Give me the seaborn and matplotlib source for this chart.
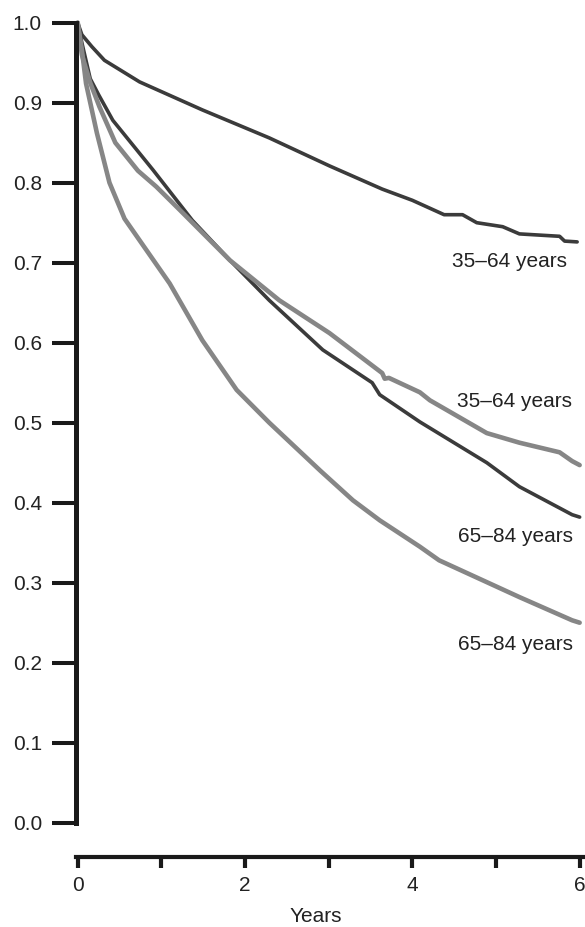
import numpy as np
import pandas as pd
import matplotlib
matplotlib.use("Agg")
import matplotlib.pyplot as plt
import seaborn as sns
from matplotlib.ticker import FixedLocator

# ---- data ----
x_a = [0.0, 0.05, 0.17, 0.32, 0.74, 1.49, 2.29, 3.01, 3.64, 4.0, 4.38, 4.60, 4.77, 5.08, 5.28, 5.76, 5.82, 5.97]
y_a = [1.0, 0.985, 0.970, 0.953, 0.926, 0.891, 0.856, 0.821, 0.792, 0.778, 0.760, 0.760, 0.750, 0.745, 0.736, 0.733, 0.727, 0.726]

x_b = [0.0, 0.05, 0.15, 0.25, 0.42, 0.90, 1.37, 1.82, 2.29, 2.93, 3.52, 3.61, 4.09, 4.89, 5.28, 5.91, 6.0]
y_b = [1.0, 0.975, 0.93, 0.91, 0.878, 0.816, 0.753, 0.703, 0.653, 0.591, 0.550, 0.535, 0.501, 0.450, 0.420, 0.385, 0.382]

x_c = [0.0, 0.05, 0.15, 0.26, 0.45, 0.72, 0.94, 1.22, 1.82, 2.41, 3.01, 3.64, 3.67, 3.72, 4.09, 4.21, 4.89, 5.28, 5.76, 5.91, 6.0]
y_c = [1.0, 0.96, 0.925, 0.895, 0.85, 0.815, 0.795, 0.766, 0.703, 0.653, 0.612, 0.562, 0.555, 0.556, 0.538, 0.528, 0.487, 0.475, 0.463, 0.452, 0.447]

x_d = [0.0, 0.05, 0.10, 0.23, 0.38, 0.56, 1.10, 1.49, 1.90, 2.29, 2.90, 3.29, 3.61, 4.09, 4.32, 5.28, 5.91, 6.0]
y_d = [1.0, 0.966, 0.924, 0.862, 0.80, 0.755, 0.674, 0.603, 0.541, 0.500, 0.44, 0.403, 0.378, 0.345, 0.328, 0.282, 0.253, 0.250]

series_names = ["35–64 dark", "65–84 dark", "35–64 light", "65–84 light"]
curve_labels = ["35–64 years", "35–64 years", "65–84 years", "65–84 years"]
y_ticks = [0.0, 0.1, 0.2, 0.3, 0.4, 0.5, 0.6, 0.7, 0.8, 0.9, 1.0]
x_major = [0, 2, 4, 6]
x_minor = [1, 3, 5]
x_label = "Years"

# ---- build long-form table ----
frames = []
for name, xs, ys in zip(series_names, [x_a, x_b, x_c, x_d], [y_a, y_b, y_c, y_d]):
    frames.append(pd.DataFrame({"t": xs, "s": ys, "group": name}))
df = pd.concat(frames, ignore_index=True)

sns.set_style("white")
plt.rcParams["font.family"] = ["Liberation Sans", "DejaVu Sans"]

DARK = "#3b3b3b"
LIGHT = "#868686"
palette = {series_names[0]: DARK, series_names[1]: DARK,
           series_names[2]: LIGHT, series_names[3]: LIGHT}
widths = {series_names[0]: 2.6, series_names[1]: 2.6,
          series_names[2]: 3.3, series_names[3]: 3.3}

fig = plt.figure(figsize=(5.85, 9.27), dpi=100)
ax = fig.add_axes([76 / 585, 104.3 / 927, 507 / 585, 800 / 927])

for name in series_names:
    sub = df[df["group"] == name]
    sns.lineplot(data=sub, x="t", y="s", ax=ax, color=palette[name],
                 linewidth=widths[name], sort=False, estimator=None,
                 legend=False, clip_on=False, solid_joinstyle="round")

ax.set_xlim(-0.02, 6.04)
ax.set_ylim(0, 1.0)

# spines
for side in ["top", "right"]:
    ax.spines[side].set_visible(False)
ax.spines["left"].set_linewidth(3.6)
ax.spines["left"].set_color("#1a1a1a")
ax.spines["left"].set_bounds(0, 1.0)
ax.spines["bottom"].set_linewidth(3.0)
ax.spines["bottom"].set_color("#1a1a1a")
ax.spines["bottom"].set_position(("outward", 24.5))

ax.set_yticks(y_ticks)
ax.set_yticklabels([f"{v:.1f}" for v in y_ticks])
ax.tick_params(axis="y", which="both", left=True, right=False,
               direction="out", length=17.5, width=2.9,
               color="#1a1a1a", pad=7, labelsize=15, labelcolor="#222222")

ax.xaxis.set_major_locator(FixedLocator(x_major))
ax.xaxis.set_minor_locator(FixedLocator(x_minor))
ax.set_xticklabels([str(v) for v in x_major])
ax.tick_params(axis="x", which="both", bottom=True, top=False,
               direction="out", length=8, width=3.0,
               color="#1a1a1a", pad=6, labelsize=15, labelcolor="#222222")

ax.set_xlabel(x_label, fontsize=15, color="#222222")
ax.xaxis.set_label_coords(0.473, -0.105)
ax.set_ylabel("")

# curve labels
label_x = [5.85, 5.91, 5.92, 5.92]
label_y = [0.695, 0.520, 0.351, 0.216]
for txt, lx, ly in zip(curve_labels, label_x, label_y):
    ax.text(lx, ly, txt, ha="right", va="baseline", fontsize=15,
            color="#222222", clip_on=False)

fig.savefig("out.png", dpi=100)
